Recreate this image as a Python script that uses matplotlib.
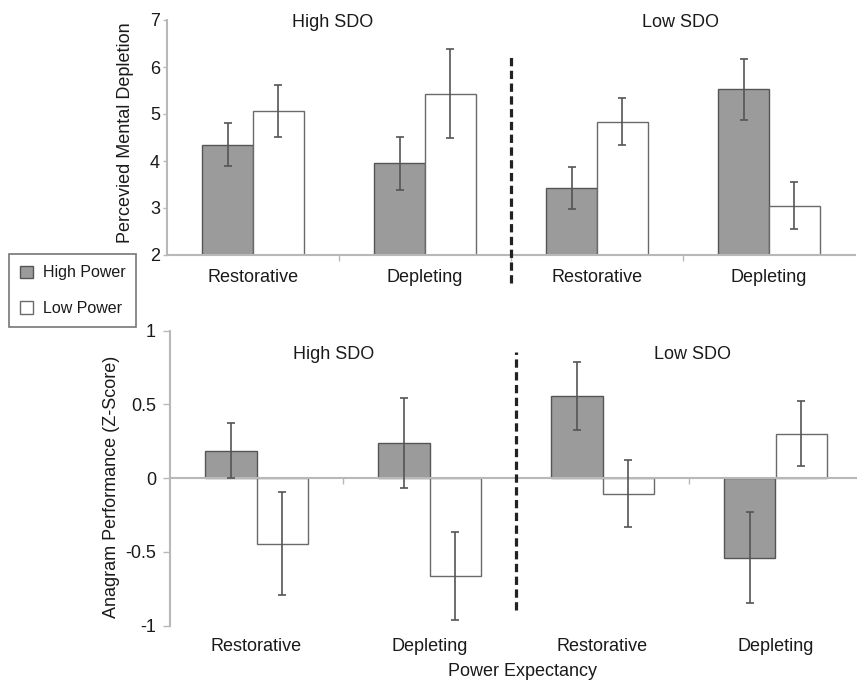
import matplotlib
matplotlib.use("Agg")
import matplotlib.pyplot as plt
import numpy as np

plt.rcParams['font.family'] = ['Liberation Sans', 'DejaVu Sans']

categories = ["Restorative", "Depleting", "Restorative", "Depleting"]
groups = ["High SDO", "Low SDO"]
series = ["High Power", "Low Power"]

# Top panel: Perceived mental depletion
dep_high = [4.35, 3.95, 3.43, 5.53]
dep_high_err = [0.45, 0.56, 0.45, 0.65]
dep_low = [5.06, 5.43, 4.84, 3.05]
dep_low_err = [0.55, 0.95, 0.49, 0.50]

# Bottom panel: Anagram performance (Z-score)
ana_high = [0.187, 0.239, 0.56, -0.538]
ana_high_err = [0.185, 0.305, 0.23, 0.31]
ana_low = [-0.445, -0.662, -0.104, 0.302]
ana_low_err = [0.35, 0.30, 0.23, 0.22]

top_yticks = [2, 3, 4, 5, 6, 7]
bot_yticks = [-1, -0.5, 0, 0.5, 1]
bot_yticklabels = ["-1", "-0.5", "0", "0.5", "1"]

W, H = 857, 684
fig = plt.figure(figsize=(W / 100, H / 100), dpi=100)
fig.patch.set_facecolor('white')

dark_fill = '#9b9b9b'
dark_edge = '#555555'
white_edge = '#6a6a6a'
axis_col = '#b8b8b8'
err_col = '#555555'
txt_col = '#1a1a1a'
fs = 13

x = np.arange(len(categories))
bw = 0.296


def style_axes(ax):
    for s in ['top', 'right']:
        ax.spines[s].set_visible(False)
    for s in ['left', 'bottom']:
        ax.spines[s].set_color(axis_col)
        ax.spines[s].set_linewidth(1.5)
    ax.tick_params(axis='y', length=3, width=1, color=axis_col, pad=2,
                   labelsize=fs, labelcolor=txt_col)
    ax.set_xlim(-0.5, 3.5)
    ax.set_facecolor('none')


def draw_bars(ax, hi, hi_err, lo, lo_err, label=True):
    ax.bar(x - bw / 2, hi, bw, color=dark_fill, edgecolor=dark_edge, linewidth=1,
           label=series[0] if label else None, zorder=2)
    ax.bar(x + bw / 2, lo, bw, color='white', edgecolor=white_edge, linewidth=1,
           label=series[1] if label else None, zorder=2)
    ax.errorbar(x - bw / 2, hi, yerr=hi_err, fmt='none', ecolor=err_col,
                elinewidth=1.2, capsize=3, capthick=1.2, zorder=3)
    ax.errorbar(x + bw / 2, lo, yerr=lo_err, fmt='none', ecolor=err_col,
                elinewidth=1.2, capsize=3, capthick=1.2, zorder=3)


# ---------- Top panel ----------
ax1 = fig.add_axes([167 / W, 1 - 255 / H, 688 / W, 235 / H])
style_axes(ax1)
draw_bars(ax1, dep_high, dep_high_err, dep_low, dep_low_err, label=True)
ax1.set_ylim(2, 7)
ax1.set_yticks(top_yticks)
ax1.set_xticks(x)
ax1.set_xticklabels(categories, fontsize=fs, color=txt_col)
ax1.tick_params(axis='x', which='major', length=0, pad=10)
ax1.set_xticks([0.5, 1.5, 2.5], minor=True)
ax1.tick_params(axis='x', which='minor', length=4, width=1, color=axis_col)
ax1.plot([1.5, 1.5], [-0.119, 0.851], transform=ax1.get_xaxis_transform(),
         color='#222222', lw=2.3, dashes=(2.6, 1.4), clip_on=False, zorder=4)
ax1.text(0.241, 0.991, groups[0], transform=ax1.transAxes, ha='center', va='center',
         fontsize=fs, color=txt_col)
ax1.text(0.746, 0.991, groups[1], transform=ax1.transAxes, ha='center', va='center',
         fontsize=fs, color=txt_col)

# ---------- Bottom panel ----------
ax2 = fig.add_axes([170 / W, 1 - 625.7 / H, 692 / W, 295 / H])
style_axes(ax2)
draw_bars(ax2, ana_high, ana_high_err, ana_low, ana_low_err, label=False)
ax2.set_ylim(-1, 1)
ax2.set_yticks(bot_yticks)
ax2.set_yticklabels(bot_yticklabels)
ax2.tick_params(axis='y', length=5, pad=5)
ax2.spines['bottom'].set_position(('data', 0))
ax2.set_xticks(x)
ax2.tick_params(axis='x', which='major', length=0, labelbottom=False)
ax2.set_xticks([0.5, 2.5], minor=True)
ax2.tick_params(axis='x', which='minor', length=4, width=1, color=axis_col)
sec = ax2.secondary_xaxis('bottom')
sec.set_xticks(x)
sec.set_xticklabels(categories, fontsize=fs, color=txt_col)
sec.tick_params(length=0, pad=9)
sec.spines['bottom'].set_visible(False)
ax2.plot([1.5, 1.5], [0.053, 0.929], transform=ax2.get_xaxis_transform(),
         color='#222222', lw=2.3, dashes=(2.6, 1.4), clip_on=False, zorder=4)
ax2.text(0.236, 0.918, groups[0], transform=ax2.transAxes, ha='center', va='center',
         fontsize=fs, color=txt_col)
ax2.text(0.755, 0.918, groups[1], transform=ax2.transAxes, ha='center', va='center',
         fontsize=fs, color=txt_col)

# ---------- Labels ----------
fig.text(125 / W, 1 - 133 / H, "Percevied Mental Depletion", rotation=90,
         ha='center', va='center', fontsize=fs, color=txt_col)
fig.text(112 / W, 1 - 487 / H, "Anagram Performance (Z-Score)", rotation=90,
         ha='center', va='center', fontsize=fs, color=txt_col)
fig.text(523 / W, 1 - 672 / H, "Power Expectancy", ha='center', va='center',
         fontsize=fs, color=txt_col)

# ---------- Legend ----------
handles, labels = ax1.get_legend_handles_labels()
leg = fig.legend(handles, labels, loc='upper left',
                 bbox_to_anchor=(9 / W, 1 - 254 / H), borderaxespad=0,
                 fontsize=11.5, frameon=True, fancybox=False,
                 handlelength=0.8, handleheight=0.8, handletextpad=0.6,
                 labelspacing=1.3, borderpad=0.7)
leg.get_frame().set_edgecolor('#555555')
leg.get_frame().set_linewidth(1.2)
for t in leg.get_texts():
    t.set_color(txt_col)

fig.savefig("out.png", dpi=100, facecolor='white')
